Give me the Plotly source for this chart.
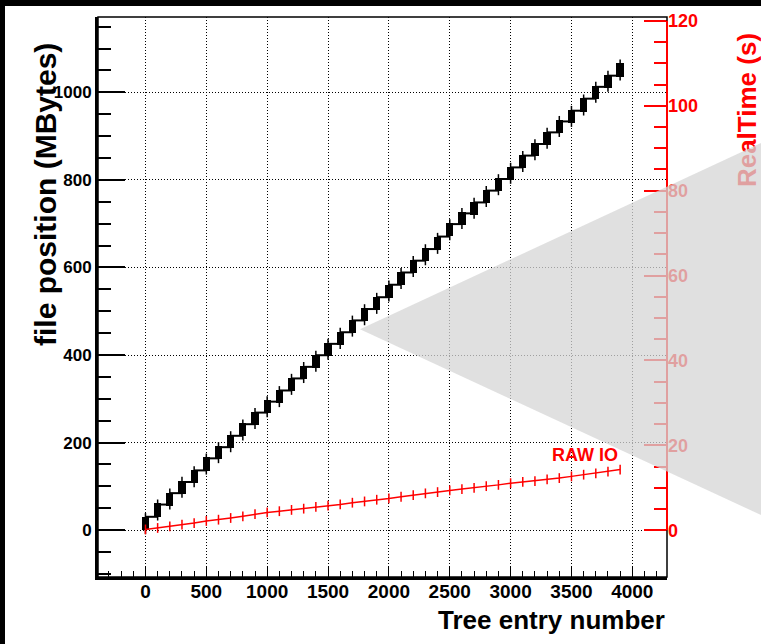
import plotly.graph_objects as go

# ---- data ----
entries = [i * 100 for i in range(40)]
file_pos_mb = [15, 46, 71, 98, 122, 151, 177, 202, 229, 255, 282, 305, 333, 360, 386,
               413, 438, 466, 492, 518, 546, 575, 602, 629, 655, 686, 712, 735, 762, 789,
               815, 842, 869, 895, 922, 945, 971, 1000, 1025, 1051]
box_half_mb = 15
whisker_half_mb = 24
realtime_s = [0.2, 0.55, 0.94, 1.34, 1.7, 2.2, 2.5, 2.9, 3.3, 3.8, 4.2, 4.5, 4.8, 5.1, 5.5,
              5.8, 6.1, 6.5, 6.8, 7.2, 7.5, 7.9, 8.3, 8.7, 9.0, 9.4, 9.7, 10.0, 10.4, 10.7,
              11.1, 11.4, 11.6, 12.0, 12.3, 12.7, 13.1, 13.4, 13.8, 14.3]
x_ticks = [0, 500, 1000, 1500, 2000, 2500, 3000, 3500, 4000]
y_ticks = [0, 200, 400, 600, 800, 1000]
y2_ticks = [0, 20, 40, 60, 80, 100, 120]
y2_minor = [v for v in range(5, 120, 5) if v % 20 != 0]

W, H = 761, 644
ML, MR, MT, MB = 98, 94, 17, 67
PW, PH = W - ML - MR, H - MT - MB


def px(xp):
    return (xp - ML) / PW


def py(yp):
    return (H - MB - yp) / PH


FONT = "Liberation Sans"
RED = "#ff0000"

fig = go.Figure()

# connecting horizontal segments
seg_x, seg_y = [], []
for i in range(len(entries) - 1):
    mid = (file_pos_mb[i] + file_pos_mb[i + 1]) / 2
    seg_x += [entries[i], entries[i + 1], None]
    seg_y += [mid, mid, None]
fig.add_trace(go.Scatter(x=seg_x, y=seg_y, mode="lines",
                         line=dict(color="black", width=2), showlegend=False,
                         hoverinfo="skip"))
# boxes
fig.add_trace(go.Bar(x=entries, y=[2 * box_half_mb] * len(entries),
                     base=[v - box_half_mb for v in file_pos_mb], width=60,
                     marker=dict(color="black", line=dict(width=0)),
                     showlegend=False))
# whiskers
fig.add_trace(go.Scatter(x=entries, y=file_pos_mb, mode="markers",
                         marker=dict(size=1, color="black"),
                         error_y=dict(type="constant", value=whisker_half_mb,
                                      width=0, thickness=1.5, color="black"),
                         showlegend=False))
# red real time
fig.add_trace(go.Scatter(x=entries, y=realtime_s, yaxis="y2", mode="lines+markers",
                         line=dict(color=RED, width=1.5),
                         marker=dict(symbol="line-ns", size=7,
                                     line=dict(color=RED, width=1.5)),
                         showlegend=False))

fig.update_layout(
    width=W, height=H,
    margin=dict(l=ML, r=MR, t=MT, b=MB, pad=0),
    paper_bgcolor="white", plot_bgcolor="white",
    bargap=0,
    xaxis=dict(range=[-390, 4285], tickvals=x_ticks, ticks="inside", ticklen=11,
               tickwidth=1, tickcolor="black", showline=True, linewidth=3,
               linecolor="black", showgrid=True, gridcolor="black", griddash="1px,2px",
               gridwidth=1, zeroline=False, ticklabelstandoff=-5,
               tickfont=dict(family=FONT, size=19, color="black", weight="bold"),
               minor=dict(dtick=100, tick0=0, ticks="inside", ticklen=6,
                          tickcolor="black", tickwidth=1, showgrid=False)),
    yaxis=dict(range=[-107, 1172], tickvals=y_ticks, ticks="inside", ticklen=27,
               tickwidth=1.5, tickcolor="black", showline=True, linewidth=3,
               linecolor="black", showgrid=True, gridcolor="black", griddash="1px,2px",
               gridwidth=1, zeroline=False,
               tickfont=dict(family=FONT, size=17, color="black", weight="bold"),
               minor=dict(dtick=50, tick0=0, ticks="inside", ticklen=13,
                          tickcolor="black", tickwidth=1.5, showgrid=False)),
    yaxis2=dict(range=[-11.0, 120.9], overlaying="y", side="right",
                tickvals=y2_ticks, ticks="inside", ticklen=23, tickwidth=1.5,
                tickcolor=RED, showline=False, showgrid=False, zeroline=False,
                tickfont=dict(family=FONT, size=18, color=RED, weight="bold"),
                minor=dict(tickvals=y2_minor, ticks="inside", ticklen=13,
                           tickcolor=RED, tickwidth=1.5, showgrid=False)),
)

fig.add_annotation(text="<b>Tree entry number</b>", xref="paper", yref="paper",
                   x=1.0, y=py(620), xanchor="right", yanchor="middle",
                   showarrow=False, font=dict(family=FONT, size=26, color="black"))
fig.add_annotation(text="<b>file position (MBytes)</b>", xref="paper", yref="paper",
                   x=px(45), y=py(195), xanchor="center", yanchor="middle",
                   textangle=-90, showarrow=False,
                   font=dict(family=FONT, size=30, color="black"))
fig.add_annotation(text="<b>RAW IO</b>", x=3608, y=171, xref="x", yref="y",
                   showarrow=False, font=dict(family=FONT, size=18, color=RED))

shapes = []
# frame
shapes.append(dict(type="rect", xref="paper", yref="paper", x0=0, x1=1, y0=0, y1=1,
                   line=dict(color="black", width=1.5), layer="above"))
# right red axis line (0..120)
shapes.append(dict(type="line", xref="paper", yref="y2", x0=1, x1=1, y0=0, y1=120,
                   line=dict(color=RED, width=2), layer="above"))
# right axis title as shape label so overlay tints it
shapes.append(dict(type="rect", xref="paper", yref="paper",
                   x0=px(734), x1=px(756), y0=py(190), y1=py(30),
                   line=dict(width=0), fillcolor="rgba(0,0,0,0)", layer="above",
                   label=dict(text="<b>RealTime (s)</b>", textangle=-90,
                              textposition="middle center",
                              font=dict(family=FONT, size=26, color=RED))))
# gray overlay triangle
shapes.append(dict(type="path", xref="paper", yref="paper",
                   path=f"M {px(360)},{py(329.3)} L {px(775)},{py(136.5)} "
                        f"L {px(775)},{py(521.5)} Z",
                   fillcolor="rgb(213,213,213)", opacity=0.75,
                   line=dict(width=0), layer="above"))
# black border strips
shapes.append(dict(type="rect", xref="paper", yref="paper", x0=px(-10), x1=px(771),
                   y0=py(6), y1=py(-10), fillcolor="black", line=dict(width=0),
                   layer="above"))
shapes.append(dict(type="rect", xref="paper", yref="paper", x0=px(-10), x1=px(5),
                   y0=py(654), y1=py(-10), fillcolor="black", line=dict(width=0),
                   layer="above"))
fig.update_layout(shapes=shapes)

fig.write_html("out.html", config={"displayModeBar": False},
               post_script="document.body.style.margin='0';"
                           "document.body.style.overflow='hidden';")
